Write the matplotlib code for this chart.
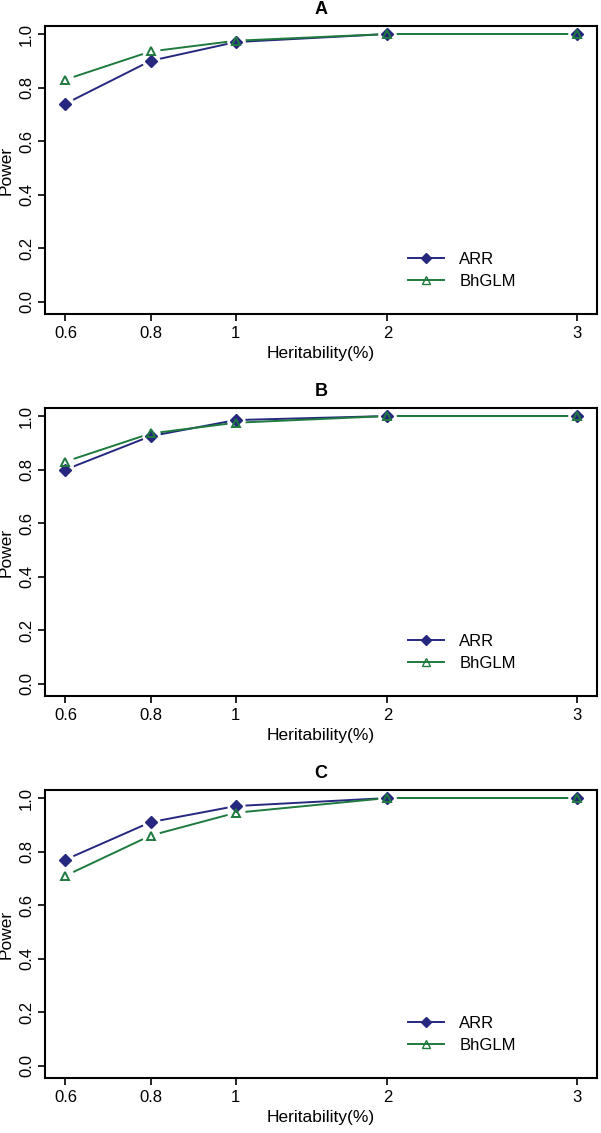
import matplotlib
matplotlib.use("Agg")
import matplotlib.pyplot as plt
import numpy as np

plt.rcParams['font.family'] = ['Liberation Sans', 'DejaVu Sans']

heritability = ["0.6", "0.8", "1", "2", "3"]
panels = ["A", "B", "C"]
arr_A = [0.74, 0.90, 0.97, 1.0, 1.0]
bhglm_A = [0.83, 0.935, 0.975, 1.0, 1.0]
arr_B = [0.80, 0.925, 0.985, 1.0, 1.0]
bhglm_B = [0.83, 0.935, 0.975, 1.0, 1.0]
arr_C = [0.77, 0.91, 0.97, 1.0, 1.0]
bhglm_C = [0.71, 0.86, 0.945, 1.0, 1.0]
series_arr = [arr_A, arr_B, arr_C]
series_bh = [bhglm_A, bhglm_B, bhglm_C]

xpos = [0, 1, 2, 3.78, 6.0]
yticks = [0.0, 0.2, 0.4, 0.6, 0.8, 1.0]

c_arr = "#25287e"
c_bh = "#1f7a3e"

W, H = 601, 1133
fig = plt.figure(figsize=(W / 100, H / 100), dpi=100)

left, right = 45, 597
tops = [26, 408, 790]
ph = 288

for i, p in enumerate(panels):
    top = tops[i]
    ax = fig.add_axes([left / W, 1 - (top + ph) / H, (right - left) / W, ph / H])
    a = series_arr[i]
    b = series_bh[i]
    ax.plot(xpos, a, color=c_arr, lw=1.4, zorder=2)
    ax.plot(xpos, b, color=c_bh, lw=1.4, zorder=2)
    # gaps around points (R type="b")
    ax.plot(xpos, a, ls='none', marker='o', ms=13, mfc='white', mec='none', zorder=3)
    ax.plot(xpos, b, ls='none', marker='o', ms=13, mfc='white', mec='none', zorder=3)
    ax.plot(xpos, a, ls='none', marker='D', ms=6.5, color=c_arr, zorder=4)
    ax.plot(xpos, b, ls='none', marker='^', ms=6, mfc='none', mec=c_bh, mew=1.4, zorder=5)
    # legend proxies
    ax.plot([], [], color=c_arr, marker='D', ms=5.5, lw=1.4, label='ARR')
    ax.plot([], [], color=c_bh, marker='^', ms=5.5, mfc='none', lw=1.4, label='BhGLM')
    h, l = ax.get_legend_handles_labels()
    ax.legend(h[-2:], l[-2:], loc='upper left', bbox_to_anchor=(0.645, 0.24),
              frameon=False, fontsize=12, handlelength=2.2, handletextpad=0.9,
              labelspacing=0.45, borderaxespad=0)

    ax.set_xlim(-0.24, 6.24)
    ax.set_ylim(-0.045, 1.03)
    ax.set_xticks(xpos)
    ax.set_xticklabels(heritability, fontsize=12)
    ax.set_yticks(yticks)
    ax.set_yticklabels([f"{v:.1f}" for v in yticks], fontsize=12, rotation=90, va='center')
    ax.tick_params(direction='out', length=5, width=1.2, pad=4)
    ax.tick_params(axis='y', pad=3)
    for s in ax.spines.values():
        s.set_linewidth(1.5)
        s.set_zorder(10)
    ax.set_xlabel("Heritability(%)", fontsize=12.5, labelpad=3)
    ax.set_ylabel("Power", fontsize=12.5, labelpad=4)
    ax.set_title(p, fontsize=13, fontweight='bold', pad=9)

fig.savefig("out.png", dpi=100)
